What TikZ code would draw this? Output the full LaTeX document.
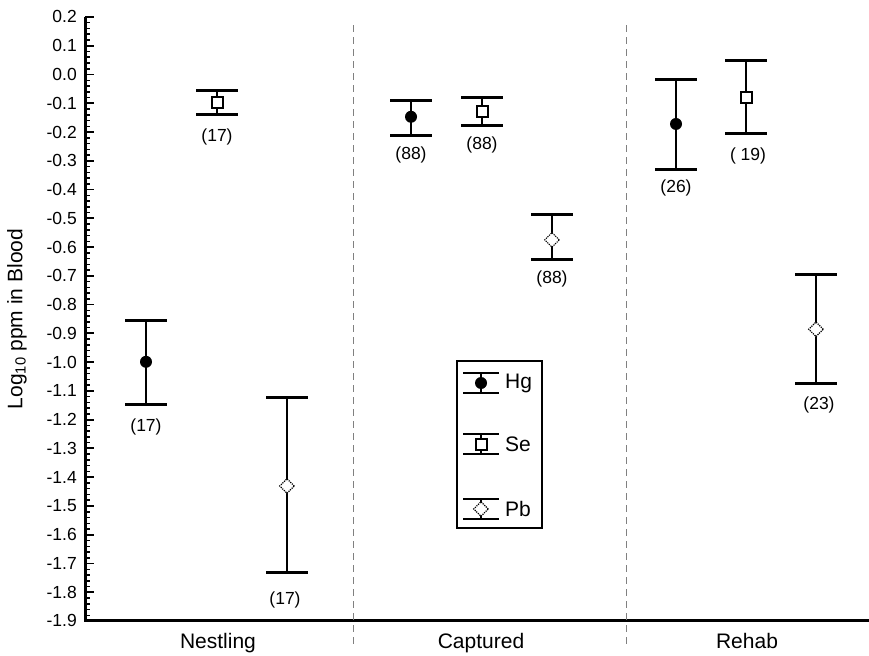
\documentclass[tikz,border=0pt]{standalone}
\usepackage{fontspec}
\setmainfont{Liberation Sans}
\usepackage{tikz}
\usetikzlibrary{shapes.geometric}
\usetikzlibrary{positioning}
\tikzstyle{hg}=[circle,fill=black,minimum size=12pt,inner sep=0pt]
\tikzstyle{se}=[rectangle,draw,fill=white,line width=2pt,minimum size=11pt,inner sep=0pt]
\tikzstyle{pb}=[diamond,draw,fill=white,line width=1.2pt,densely dotted,minimum size=15pt,inner sep=0pt]
\tikzstyle{stem}=[line width=2.3pt]
\tikzstyle{barcap}=[line width=3pt]
\tikzstyle{count}=[font=\fontsize{17.5}{20}\selectfont]
\tikzstyle{ticklab}=[anchor=east,inner sep=0pt,font=\fontsize{17.5}{20}\selectfont]
\tikzstyle{group}=[font=\fontsize{21}{24}\selectfont]
\tikzstyle{divider}=[gray,line width=0.9pt,dash pattern=on 7pt off 5pt]

\begin{document}
\begin{tikzpicture}[x=1pt,y=287.6pt]
\useasboundingbox (0,-2.0217) rectangle (869,0.259);

% axes and ticks
\draw[line width=3pt] (85,0.2) -- (85,-1.9) -- (869,-1.9);
\foreach \v in {0.2,0.18,...,-1.89}
  \draw[line width=1.5pt] (85,\v) -- ++(5,0);
\foreach \t in {0.2,0.1,0.0,-0.1,-0.2,-0.3,-0.4,-0.5,-0.6,-0.7,-0.8,-0.9,-1.0,-1.1,-1.2,-1.3,-1.4,-1.5,-1.6,-1.7,-1.8,-1.9}
{
  \draw[line width=1.8pt] (85,\t) -- ++(9,0);
  \node[ticklab] at (77,\t) {\t};
}
\node[rotate=90,group] (ylab) at (17,-0.850) {Log\textsubscript{10} ppm in Blood};

% group dividers
\draw[divider] (353,0.172) -- (353,-1.984);
\draw[divider] (626,0.172) -- (626,-1.984);

\node[group,anchor=base] (nestling) at (218,-1.997) {Nestling};
\node[group,anchor=base] (captured) at (481,-1.997) {Captured};
\node[group,anchor=base] (rehab) at (747,-1.997) {Rehab};

% error bars
\foreach \x/\lo/\hi/\m/\mk in {146/-1.147/-0.855/-0.999/hg, 217/-0.138/-0.055/-0.097/se, 287/-1.732/-1.122/-1.431/pb,
  411/-0.213/-0.089/-0.147/hg, 482/-0.179/-0.079/-0.129/se, 552/-0.643/-0.486/-0.575/pb,
  676/-0.330/-0.016/-0.172/hg, 746/-0.204/0.050/-0.081/se, 816/-1.074/-0.694/-0.886/pb}
{
  \draw[stem] (\x,\lo) -- (\x,\hi);
  \draw[barcap] (\x-21,\lo) -- (\x+21,\lo);
  \draw[barcap] (\x-21,\hi) -- (\x+21,\hi);
  \node[\mk] at (\x,\m) {};
}

% sample sizes
\foreach \x/\y/\n [count=\i] in {146/-1.225/17, 217/-0.216/17, 285/-1.827/17, 411/-0.280/88, 482/-0.245/88,
  552/-0.712/88, 676/-0.396/26, 748/-0.283/{\ 19}, 819/-1.149/23}
  \node[count] (n\i) at (\x,\y) {(\n)};

% legend
\draw[line width=2.4pt] (457,-0.9962) rectangle (542,-1.5768);
\foreach \y/\mk/\el in {-1.0727/hg/Hg, -1.2848/se/Se, -1.5108/pb/Pb}
{
  \draw[stem] (481,\y-0.0348) -- (481,\y+0.0348);
  \draw[line width=2.4pt] (463,\y-0.0348) -- (499,\y-0.0348);
  \draw[line width=2.4pt] (463,\y+0.0348) -- (499,\y+0.0348);
  \node[\mk] at (481,\y) {};
  \node[group,anchor=west,inner sep=0pt] (leg\el) at (505,\y) {\el};
}
\end{tikzpicture}
\end{document}
